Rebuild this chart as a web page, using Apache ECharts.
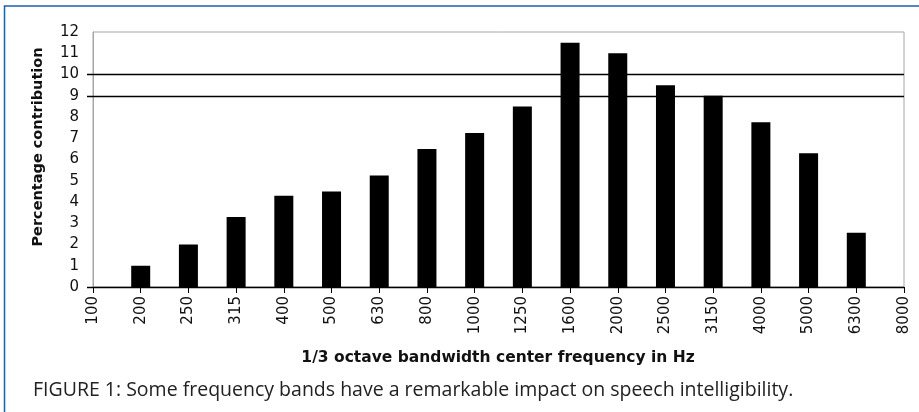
<!DOCTYPE html>
<html>
<head>
<meta charset="utf-8">
<script src="https://cdn.jsdelivr.net/npm/echarts@6/dist/echarts.min.js"></script>
<style>
html,body{margin:0;padding:0;background:#fff;}
#c{width:919px;height:412px;}
</style>
</head>
<body>
<div id="c"></div>
<script>
var categories = ['100','200','250','315','400','500','630','800','1000','1250','1600','2000','2500','3150','4000','5000','6300','8000'];
var values = [null, 1.0, 2.0, 3.3, 4.3, 4.5, 5.25, 6.5, 7.25, 8.5, 11.5, 11.0, 9.5, 9.0, 7.75, 6.3, 2.55, null];
var refLines = [9, 10];
var yMin = 0, yMax = 12, yStep = 1;
var yTitle = 'Percentage contribution';
var xTitle = '1/3 octave bandwidth center frequency in Hz';
var caption = 'FIGURE 1: Some frequency bands have a remarkable impact on speech intelligibility.';

var G = {left: 93, top: 32, right: 15, bottom: 125};
var tickExt = 6;

var chart = echarts.init(document.getElementById('c'), null, {renderer: 'canvas'});

var lineData = [0].concat(refLines).map(function(v){
  return [
    {coord: [0, v], x: G.left - tickExt},
    {coord: [categories.length - 1, v]}
  ];
});

chart.setOption({
  animation: false,
  grid: {left: G.left, top: G.top, right: G.right, bottom: G.bottom, show: true, borderColor: '#a6a6a6', borderWidth: 1, backgroundColor: 'transparent'},
  xAxis: {
    type: 'category',
    data: categories,
    boundaryGap: false,
    axisLine: {lineStyle: {color: '#000', width: 1}},
    axisTick: {show: true, length: 6, lineStyle: {color: '#000'}},
    axisLabel: {rotate: 90, fontFamily: 'DejaVu Sans', fontSize: 15, color: '#111', margin: 9, interval: 0}
  },
  yAxis: {
    type: 'value',
    min: yMin, max: yMax, interval: yStep,
    axisLine: {show: true, lineStyle: {color: '#a6a6a6'}},
    axisTick: {show: false},
    splitLine: {show: false},
    axisLabel: {fontFamily: 'DejaVu Sans', fontSize: 15, color: '#111', margin: 14}
  },
  series: [{
    type: 'bar',
    data: values,
    barWidth: 19,
    itemStyle: {color: '#000'},
    markLine: {
      silent: true,
      symbol: ['none', 'none'],
      label: {show: false},
      lineStyle: {color: '#000', width: 1.3, type: 'solid'},
      data: lineData
    }
  }],
  graphic: [
    {type: 'rect', shape: {x: 4.5, y: 6, width: 1000, height: 1000}, style: {fill: 'none', stroke: '#1b5fae', lineWidth: 1.5}, z: 100},
    {type: 'text', x: 38, y: 147, rotation: Math.PI/2, style: {text: yTitle, font: 'bold 14.5px "DejaVu Sans"', fill: '#111', textAlign: 'center', textVerticalAlign: 'middle'}},
    {type: 'text', x: 498, y: 358, style: {text: xTitle, font: 'bold 15.5px "DejaVu Sans"', fill: '#111', textAlign: 'center', textVerticalAlign: 'middle'}},
    {type: 'text', x: 33, y: 390, style: {text: caption, font: '19.5px "Open Sans"', fill: '#222', textAlign: 'left', textVerticalAlign: 'middle'}}
  ]
});
</script>
</body>
</html>
